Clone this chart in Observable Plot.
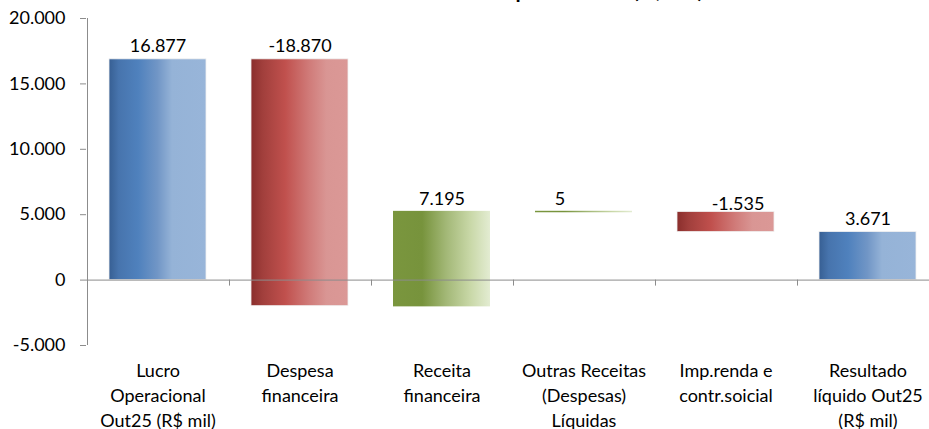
<!DOCTYPE html>
<html>
<head>
<meta charset="utf-8">
<script src="https://cdn.jsdelivr.net/npm/d3@7"></script>
<script src="https://cdn.jsdelivr.net/npm/@observablehq/plot@0.6"></script>
<style>
  html, body { margin: 0; padding: 0; background: #fff; overflow: hidden; }
  #chart { position: relative; width: 929px; height: 429px; }
</style>
</head>
<body>
<div id="chart"></div>
<script>
const title = "Resultado Líquido Out25 (R$ mil)";
const categories = [
  "Lucro\nOperacional\nOut25 (R$ mil)",
  "Despesa\nfinanceira",
  "Receita\nfinanceira",
  "Outras Receitas\n(Despesas)\nLíquidas",
  "Imp.renda e\ncontr.soicial",
  "Resultado\nlíquido Out25\n(R$ mil)"
];
const values = [16877, -18870, 7195, 5, -1535, 3671];
const kinds = ["total", "delta", "delta", "delta", "delta", "total"];
const yTicks = [-5000, 0, 5000, 10000, 15000, 20000];

const fmt = d3.formatLocale({decimal: ",", thousands: ".", grouping: [3], currency: ["R$", ""], minus: "-"}).format(",d");

let run = 0;
const rows = categories.map((c, i) => {
  let y1, y2;
  if (kinds[i] === "total") { y1 = 0; y2 = values[i]; run = values[i]; }
  else { y1 = run; y2 = run + values[i]; run = y2; }
  const group = kinds[i] === "total" ? "blue" : values[i] >= 0 ? "green" : "red";
  return {i, cat: c, value: values[i], y1, y2, top: Math.max(y1, y2), group};
});

const ns = "http://www.w3.org/2000/svg";
function defs() {
  const d = document.createElementNS(ns, "defs");
  const grads = {
    blue: [[0, "#375f93"], [0.1, "#4774ad"], [0.3, "#4f81bd"], [0.5, "#7196c6"], [0.65, "#95b3d7"], [1, "#98b5d9"]],
    red: [[0, "#8a2e2c"], [0.12, "#a13f3c"], [0.35, "#c0504d"], [0.6, "#d07b79"], [0.78, "#d99694"], [1, "#db9896"]],
    green: [[0, "#7a963e"], [0.3, "#77933c"], [0.55, "#a3b877"], [0.8, "#c9d8a8"], [1, "#e3ecd2"]]
  };
  for (const [k, stops] of Object.entries(grads)) {
    const g = document.createElementNS(ns, "linearGradient");
    g.setAttribute("id", "g-" + k);
    g.setAttribute("x1", "0"); g.setAttribute("x2", "1");
    g.setAttribute("y1", "0"); g.setAttribute("y2", "0");
    for (const [o, c] of stops) {
      const s = document.createElementNS(ns, "stop");
      s.setAttribute("offset", o); s.setAttribute("stop-color", c);
      g.appendChild(s);
    }
    d.appendChild(g);
  }
  return d;
}

function axisLines(index, scales) {
  const x = scales.x, y = scales.y;
  const g = document.createElementNS(ns, "g");
  g.setAttribute("stroke", "#8c8c8c");
  const gap = (x.step() - x.bandwidth()) / 2;
  const y0 = y(0);
  const add = (x1, y1, x2, y2) => {
    const l = document.createElementNS(ns, "line");
    l.setAttribute("x1", x1); l.setAttribute("x2", x2);
    l.setAttribute("y1", y1); l.setAttribute("y2", y2);
    g.appendChild(l);
  };
  categories.forEach((c, i) => {
    if (i === 0) return;
    const bx = Math.round(x(c) - gap) + 0.5;
    add(bx, y0, bx, y0 + 6);
  });
  const ax = Math.round(x(categories[0]) - gap) + 0.5;
  add(ax, y(yTicks[yTicks.length - 1]), ax, y(yTicks[0]));
  return g;
}

const font = "Lato, 'Open Sans', sans-serif";

const barOpts = (grp) => grp === "green" ? {
  filter: d => d.group === grp,
  x: "cat", y1: "y1", y2: "y2",
  fill: `url(#g-${grp})`,
  insetTop: -0.7, insetBottom: -0.7
} : {
  filter: d => d.group === grp,
  x: "cat", y1: "y1", y2: "y2",
  fill: `url(#g-${grp})`,
  stroke: "#f0f0f0", strokeWidth: 0.8
};

const labelOpts = (sel, dx, dy) => ({
  filter: d => sel(d.i),
  x: "cat", y: "top", text: d => fmt(d.value), dx, dy, fontSize: 18, fill: "#000"
});

const plot = Plot.plot({
  width: 929,
  height: 429,
  marginLeft: 86,
  marginRight: 0,
  marginTop: 18,
  marginBottom: 84,
  style: {fontFamily: font, fontSize: "18px", color: "#000", background: "#fff", overflow: "visible"},
  x: {domain: categories, range: [86, 938], paddingInner: 0.317, paddingOuter: 0.1585, label: null},
  y: {domain: [-5000, 20000], label: null},
  marks: [
    defs,
    Plot.barY(rows, barOpts("blue")),
    Plot.barY(rows, barOpts("red")),
    Plot.barY(rows, barOpts("green")),
    Plot.ruleY([0], {stroke: "#8c8c8c", strokeWidth: 1}),
    axisLines,
    Plot.axisY({ticks: yTicks, tickFormat: fmt, tickSize: 6, tickPadding: 15, stroke: "#8c8c8c", fill: "#000", fontSize: 18, label: null}),
    Plot.axisX({tickSize: 0, tickPadding: 14, fontSize: 18, lineHeight: 1.38, fill: "#000", label: null}),
    Plot.text(rows, labelOpts(i => i !== 3 && i !== 4, 0, -13)),
    Plot.text(rows, labelOpts(i => i === 3, -24, -13)),
    Plot.text(rows, labelOpts(i => i === 4, 12, -8)),
    Plot.text([title], {frameAnchor: "top", dx: 41, dy: -21, lineAnchor: "bottom", fontSize: 21, fontWeight: "bold", fill: "#000"})
  ]
});
document.getElementById("chart").appendChild(plot);
</script>
</body>
</html>
